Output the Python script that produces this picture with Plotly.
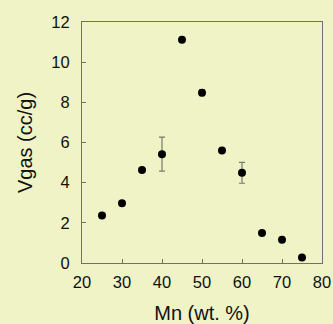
import plotly.graph_objects as go

mn = [25, 30, 35, 40, 45, 50, 55, 60, 65, 70, 75]
vgas = [2.36, 2.98, 4.63, 5.42, 11.11, 8.48, 5.6, 4.49, 1.5, 1.16, 0.28]
err = [0, 0, 0, 0.85, 0, 0.15, 0, 0.52, 0, 0, 0]

x_ticks = [20, 30, 40, 50, 60, 70, 80]
y_ticks = [0, 2, 4, 6, 8, 10, 12]

bg = "#EFF3C6"
fig = go.Figure()
fig.add_trace(go.Scatter(
    x=mn, y=vgas, mode="markers",
    marker=dict(color="black", size=8),
    error_y=dict(type="data", array=err, visible=True, color="#7a7a6a", thickness=1.2, width=3),
    showlegend=False,
))
font = dict(family="Liberation Sans, Arial, sans-serif", size=16.5, color="#111111")
fig.update_layout(
    width=333, height=324,
    margin=dict(l=82, r=11, t=22, b=61, autoexpand=False),
    paper_bgcolor=bg, plot_bgcolor=bg,
    font=font,
)
fig.update_xaxes(
    range=[20, 80], tickvals=x_ticks, ticks="inside", ticklen=4, tickcolor="#707070",
    showline=True, linecolor="#707070", linewidth=1, mirror=True, showgrid=False, zeroline=False,
    title=dict(text="Mn (wt. %)", standoff=16), ticklabelstandoff=4, automargin=False,
)
fig.update_yaxes(
    range=[0, 12], tickvals=y_ticks, ticks="inside", ticklen=4, tickcolor="#707070",
    showline=True, linecolor="#707070", linewidth=1, mirror=True, showgrid=False, zeroline=False,
    title=dict(text="Vgas (cc/g)", standoff=13), ticklabelstandoff=8, automargin=False,
)
fig.write_html(
    "out.html",
    config={"displayModeBar": False},
    post_script="document.body.style.margin='0';document.body.style.background='" + bg + "';",
)
